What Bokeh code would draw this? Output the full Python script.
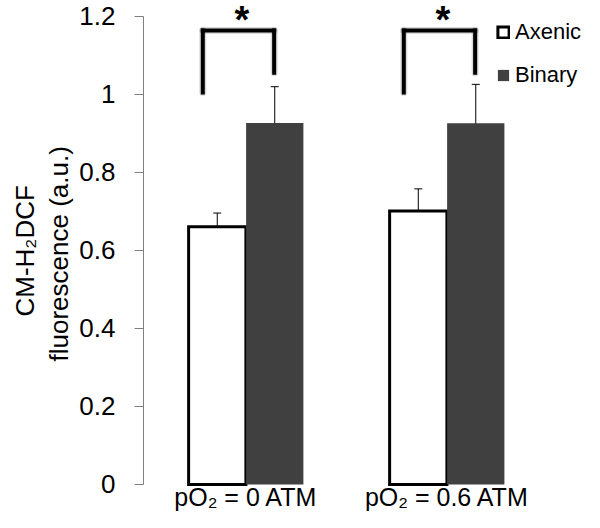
from bokeh.plotting import figure
from bokeh.models import (ColumnDataSource, Range1d, FixedTicker, Whisker, TeeHead, Title)
from bokeh.transform import dodge
from bokeh.core.properties import value
from bokeh.embed import file_html
from bokeh.resources import INLINE

# ---- data ----
groups = ["pO\u2082 = 0 ATM", "pO\u2082 = 0.6 ATM"]
axenic = [0.661, 0.701]
axenic_err = [0.035, 0.057]
binary = [0.927, 0.926]
binary_err = [0.093, 0.100]
y_ticks = [0, 0.2, 0.4, 0.6, 0.8, 1.0, 1.2]
y_tick_labels = ["0", "0.2", "0.4", "0.6", "0.8", "1", "1.2"]
sig_marks = ["*", "*"]
bracket_top = [1.164, 1.164]
bracket_left_bottom = [1.005, 1.005]
bracket_right_bottom = [1.056, 1.056]
star_y = [1.19, 1.19]
y_title = ["CM-H\u2082DCF", "fluorescence (a.u.)"]

FONT = "Liberation Sans"
LABEL_Y = -0.0308   # layout: where the category labels sit, below the zero line

# category slots: one unit per category, centre of slot i at i + 0.5
centers = [i + 0.5 for i in range(len(groups))]

src = ColumnDataSource(dict(
    xc=centers, g=groups, ax=axenic, bi=binary,
    ax_up=[v + e for v, e in zip(axenic, axenic_err)],
    ax_lo=[v - e for v, e in zip(axenic, axenic_err)],
    bi_up=[v + e for v, e in zip(binary, binary_err)],
    bi_lo=[v - e for v, e in zip(binary, binary_err)],
    top=bracket_top, lb=bracket_left_bottom, rb=bracket_right_bottom,
    star=sig_marks, sy=star_y, ly=[LABEL_Y] * len(groups),
))

p = figure(width=584, height=512, x_range=Range1d(-0.00995, 2.184),
           y_range=Range1d(-0.0718, 1.241), output_backend="svg", toolbar_location=None,
           min_border_left=143, min_border_right=0, min_border_top=0,
           min_border_bottom=0)
p.outline_line_color = None
p.xgrid.grid_line_color = None
p.ygrid.grid_line_color = None
p.xaxis.visible = False
p.background_fill_color = "white"

OFF = 0.143
W = 0.285
p.vbar(x=dodge("xc", -OFF), top="ax", bottom=0, width=W, source=src,
       fill_color="white", line_color="black", line_width=3, line_join="miter",
       legend_label="Axenic")
p.vbar(x=dodge("xc", OFF), top="bi", bottom=0, width=W, source=src,
       fill_color="#404040", line_color=None, legend_label="Binary")

for off, up, lo in ((-OFF, "ax_up", "ax_lo"), (OFF, "bi_up", "bi_lo")):
    w = Whisker(base=dodge("xc", off), upper=up, lower=lo, source=src,
                line_color="black", line_width=1,
                upper_head=TeeHead(size=8, line_color="black", line_width=1),
                lower_head=TeeHead(size=8, line_color="black", line_width=1))
    p.add_layout(w)

# significance brackets (soft shadow, then the bracket)
LB, RB = -0.215, 0.14
segs = (dict(x0=dodge("xc", LB), y0="lb", x1=dodge("xc", LB), y1="top"),
        dict(x0=dodge("xc", LB), y0="top", x1=dodge("xc", RB), y1="top"),
        dict(x0=dodge("xc", RB), y0="top", x1=dodge("xc", RB), y1="rb"))
for kw in segs:
    p.segment(source=src, line_color="#999999", line_alpha=0.35, line_width=7,
              line_cap="round", **kw)
for kw in segs:
    p.segment(source=src, line_color="black", line_width=4, line_cap="square", **kw)

p.text(x=dodge("xc", -0.02), y="sy", text="star", source=src,
       text_font=value(FONT), text_font_size="38px", text_font_style="bold",
       text_align="center", text_baseline="alphabetic", text_color="black")

# category labels
p.text(x="xc", y="ly", text="g", source=src,
       text_font=value(FONT), text_font_size="25px",
       text_align="center", text_baseline="middle", text_color="black")

# y axis
p.yaxis.ticker = FixedTicker(ticks=y_ticks)
p.yaxis.major_label_overrides = {t: l for t, l in zip(y_ticks, y_tick_labels)}
p.yaxis.bounds = (0, 1.2)
p.yaxis.axis_line_color = "#808080"
p.yaxis.major_tick_line_color = "#808080"
p.yaxis.major_tick_in = 0
p.yaxis.major_tick_out = 9
p.yaxis.minor_tick_line_color = None
p.yaxis.major_label_text_font = FONT
p.yaxis.major_label_text_font_size = "26px"
p.yaxis.major_label_text_color = "black"
p.yaxis.major_label_standoff = 19

# y title, two lines (inner line first); anchored from the bottom of the panel
for txt, so, off in zip(reversed(y_title), (5, 0), (151, 196)):
    t = Title(text=txt, align="left", offset=off, standoff=so,
              text_font=FONT, text_font_size="26px", text_font_style="normal",
              text_color="black")
    p.add_layout(t, "left")

lg = p.legend[0]
lg.location = (353, 424)
lg.border_line_color = None
lg.background_fill_alpha = 0
lg.padding = 0
lg.margin = 0
lg.spacing = 17
lg.glyph_width = 14
lg.glyph_height = 14
lg.label_standoff = 5
lg.label_text_font = FONT
lg.label_text_font_size = "22px"
lg.label_text_color = "black"

open("out.html", "w").write(file_html(p, INLINE))
